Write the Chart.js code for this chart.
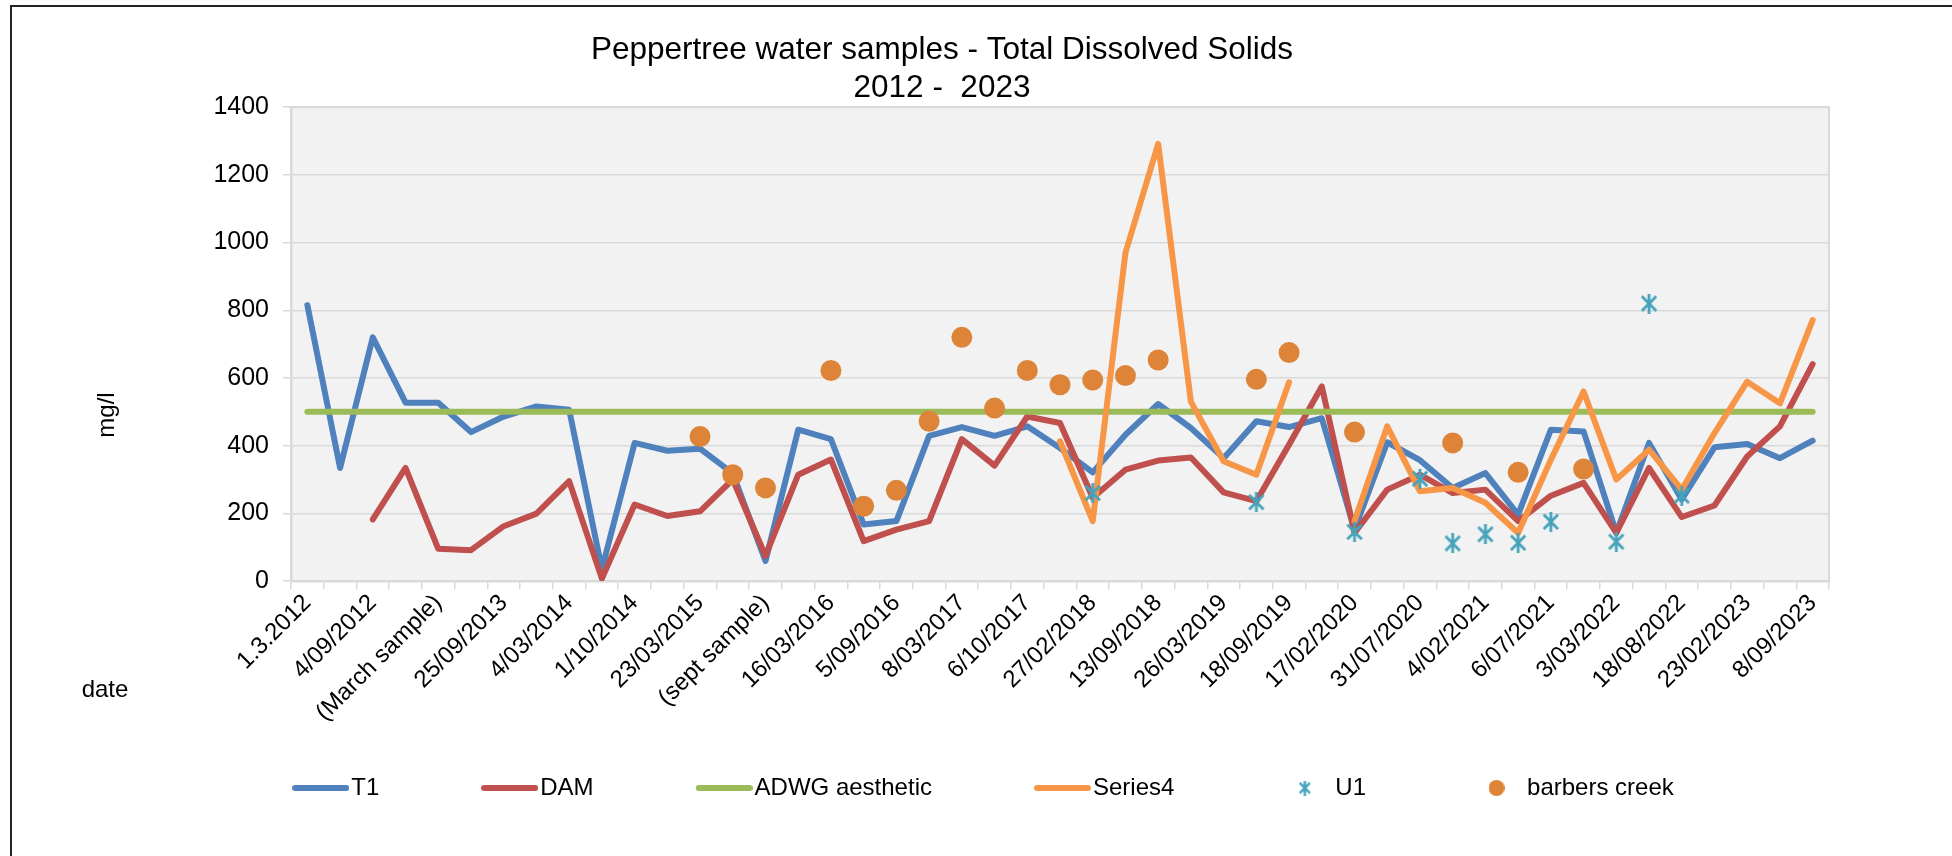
<!DOCTYPE html>
<html>
<head>
<meta charset="utf-8">
<title>Peppertree water samples - Total Dissolved Solids</title>
<script src="https://cdn.jsdelivr.net/npm/chart.js@4.4.1/dist/chart.umd.min.js"></script>
<style>
  html, body { margin: 0; padding: 0; background: #fff; overflow: hidden; }
  #frame { position: absolute; left: 10px; top: 5px; width: 2100px; height: 1000px; border: 2px solid #222; }
  #wrap { position: absolute; left: 0; top: 0; width: 1952px; height: 856px; }
</style>
</head>
<body>
<div id="frame"></div>
<div id="wrap"><canvas id="c"></canvas></div>
<script>
// ===== Peppertree water samples: Total Dissolved Solids 2012 - 2023 =====

// sample dates (only every second one is labelled on the axis)
const dates = [
  '1.3.2012', '', '4/09/2012', '', '(March sample)', '', '25/09/2013', '', '4/03/2014', '',
  '1/10/2014', '', '23/03/2015', '', '(sept sample)', '', '16/03/2016', '', '5/09/2016', '',
  '8/03/2017', '', '6/10/2017', '', '27/02/2018', '', '13/09/2018', '', '26/03/2019', '',
  '18/09/2019', '', '17/02/2020', '', '31/07/2020', '', '4/02/2021', '', '6/07/2021', '',
  '3/03/2022', '', '18/08/2022', '', '23/02/2023', '', '8/09/2023'
];

// mg/l
const t1 = [
  815, 334, 720, 527, 527, 440, 486, 516, 506, 35,
  408, 385, 391, 318, 59, 447, 419, 167, 177, 429,
  455, 429, 457, 393, 321, 432, 523, 452, 363, 472,
  455, 481, 152, 410, 357, 275, 319, 196, 447, 442,
  142, 408, 241, 395, 405, 363, 415
];
const dam = [
  null, null, 182, 334, 95, 91, 162, 199, 295, 7,
  226, 192, 206, 300, 74, 314, 359, 118, 152, 177,
  419, 341, 486, 467, 246, 329, 356, 365, 262, 236,
  403, 575, 142, 270, 314, 260, 270, 177, 252, 290,
  142, 334, 189, 223, 368, 457, 641
];
const adwg = dates.map(() => 500);   // guideline, flat 500 mg/l
const series4 = [
  null, null, null, null, null, null, null, null, null, null,
  null, null, null, null, null, null, null, null, null, null,
  null, null, null, 413, 177, 970, 1292, 530, 354, 314,
  587, null, 177, 457, 265, 275, 231, 142, 358, 560,
  300, 388, 270, 437, 589, 525, 771
];
const u1 = [
  null, null, null, null, null, null, null, null, null, null,
  null, null, null, null, null, null, null, null, null, null,
  null, null, null, null, 260, null, null, null, null, 233,
  null, null, 145, null, 302, 111, 138, 113, 175, null,
  116, 820, 252, null, null, null, null
];
const barbers = [
  null, null, null, null, null, null, null, null, null, null,
  null, null, 427, 314, 275, null, 622, 221, 268, 472,
  720, 511, 622, 580, 594, 607, 653, null, null, 596,
  675, null, 440, null, null, 408, null, 321, null, 331,
  null, null, null, null, null, null, null
];

const C = {
  t1: '#4F81BD', dam: '#C0504D', adwg: '#9BBB59',
  s4: '#F79646', u1: '#45A3BB', creek: '#DD8439'
};

Chart.defaults.font.family = '"Liberation Sans", Arial, sans-serif';
Chart.defaults.color = '#000';

// ----- marker canvases -----
function lineMark(color) {
  const c = document.createElement('canvas');
  c.width = 57; c.height = 8;
  const g = c.getContext('2d');
  g.strokeStyle = color; g.lineWidth = 6; g.lineCap = 'round';
  g.beginPath(); g.moveTo(3, 4); g.lineTo(54, 4); g.stroke();
  return c;
}
function starMark(size, color, lw) {
  const c = document.createElement('canvas');
  c.width = c.height = size;
  const g = c.getContext('2d');
  const m = lw;
  g.strokeStyle = color; g.lineWidth = lw;
  g.beginPath();
  g.moveTo(size / 2, 0); g.lineTo(size / 2, size);
  g.moveTo(m, m); g.lineTo(size - m, size - m);
  g.moveTo(size - m, m); g.lineTo(m, size - m);
  g.stroke();
  return c;
}
function dotMark(d, color) {
  const c = document.createElement('canvas');
  c.width = c.height = d;
  const g = c.getContext('2d');
  g.fillStyle = color;
  g.beginPath(); g.arc(d / 2, d / 2, d / 2, 0, Math.PI * 2); g.fill();
  return c;
}
const legendMarks = [
  lineMark(C.t1), lineMark(C.dam), lineMark(C.adwg), lineMark(C.s4),
  starMark(15, C.u1, 2.4), dotMark(16, C.creek)
];
const legendGap = ' '.repeat(9);   // wide Excel-style gap between legend entries

const line = (label, data, color, order) => ({
  label, data, order,
  borderColor: color, backgroundColor: color, borderWidth: 6,
  borderCapStyle: 'round', borderJoinStyle: 'round',
  pointRadius: 0, pointHoverRadius: 0, tension: 0, spanGaps: false
});

// plot fill, title/legend offsets and the two loose axis captions
const plotFrame = {
  id: 'plotFrame',
  afterLayout(chart) {
    chart.titleBlock.left = 0;
    chart.titleBlock.right = 1884;
    chart.legend.left += 12;
    chart.legend.right += 12;
  },
  beforeDraw(chart) {
    const { ctx, chartArea: a } = chart;
    ctx.save();
    ctx.fillStyle = '#F2F2F2';
    ctx.fillRect(a.left, a.top, a.width, a.height);
    ctx.strokeStyle = '#D9D9D9';
    ctx.lineWidth = 2;
    ctx.strokeRect(a.left, a.top, a.width, a.height);
    ctx.restore();
  },
  afterDraw(chart) {
    const { ctx, chartArea: a } = chart;
    ctx.save();
    ctx.font = '24px "Liberation Sans", Arial, sans-serif';
    ctx.fillStyle = '#000';
    ctx.textAlign = 'center';
    ctx.textBaseline = 'middle';
    ctx.fillText('date', a.left - 186, a.bottom + 109);
    ctx.translate(a.left - 184, a.bottom - 166);
    ctx.rotate(-Math.PI / 2);
    ctx.fillText('mg/l', 0, 0);
    ctx.restore();
  }
};

new Chart(document.getElementById('c'), {
  type: 'line',
  data: {
    labels: dates,
    datasets: [
      line('T1', t1, C.t1, 6),
      line('DAM', dam, C.dam, 5),
      line('ADWG aesthetic', adwg, C.adwg, 4),
      line('Series4', series4, C.s4, 3),
      { label: 'U1', data: u1, order: 2, showLine: false,
        borderColor: C.u1, backgroundColor: C.u1,
        pointStyle: starMark(20, C.u1, 2.8), pointRadius: 10, pointHoverRadius: 10 },
      { label: 'barbers creek', data: barbers, order: 1, showLine: false,
        borderColor: C.creek, backgroundColor: C.creek,
        pointStyle: 'circle', pointRadius: 10.5, pointBorderWidth: 0, pointHoverRadius: 10.5 }
    ]
  },
  options: {
    responsive: true, maintainAspectRatio: false, animation: false, devicePixelRatio: 1,
    events: [],
    layout: { padding: { left: 0, right: 0, top: 0, bottom: 46 } },
    plugins: {
      title: {
        display: true,
        text: ['Peppertree water samples - Total Dissolved Solids', '2012 -  2023'],
        color: '#000',
        font: { size: 31.5, weight: 'normal', lineHeight: 1.21 },
        padding: { top: 31, bottom: 0 }
      },
      legend: {
        position: 'bottom',
        labels: {
          usePointStyle: true, pointStyleWidth: 37, padding: 52,
          color: '#000', font: { size: 24 },
          generateLabels: chart => chart.data.datasets.map((ds, i, all) => ({
            text: i < all.length - 1 ? ds.label + legendGap : ds.label,
            pointStyle: legendMarks[i], datasetIndex: i,
            fillStyle: ds.borderColor, strokeStyle: ds.borderColor, lineWidth: 0,
            hidden: false, fontColor: '#000'
          }))
        }
      },
      tooltip: { enabled: false }
    },
    scales: {
      x: {
        offset: true,
        grid: { drawOnChartArea: false, drawTicks: true, tickLength: 8, offset: true, color: '#D9D9D9', lineWidth: 1.5 },
        border: { color: '#D9D9D9', width: 2.5 },
        ticks: { autoSkip: false, minRotation: 45, maxRotation: 45, padding: 0, font: { size: 24 } },
        afterFit: s => { s.height = 143; }
      },
      y: {
        min: 0, max: 1400,
        grid: { color: '#D9D9D9', lineWidth: 1.5, tickLength: 8 },
        border: { color: '#D9D9D9', width: 2.5 },
        ticks: { stepSize: 200, padding: 14, font: { size: 25 }, callback: v => String(v) },
        afterFit: s => { s.width = 291; }
      },
      pad: {
        type: 'linear', position: 'right',
        grid: { display: false }, border: { display: false }, ticks: { display: false },
        afterFit: s => { s.width = 123; }
      }
    }
  },
  plugins: [plotFrame]
});
</script>
</body>
</html>
